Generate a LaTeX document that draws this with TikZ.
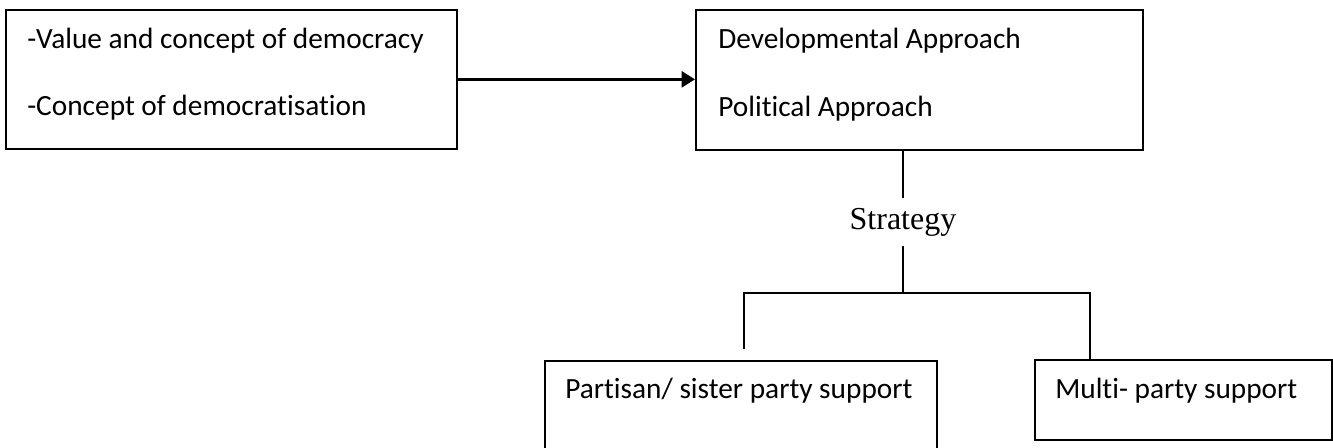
\documentclass[tikz,border=0pt]{standalone}
\usepackage{fontspec}
\setmainfont{Carlito}[Ligatures={NoCommon}]
\newfontfamily\timesf{Liberation Serif}
\usetikzlibrary{arrows.meta,calc}
\begin{document}
\begin{tikzpicture}[x=0.75pt,y=-0.75pt,
  box/.style={draw=black,line width=1.3pt,rectangle,inner sep=0pt,anchor=north west},
  txt/.style={anchor=base west,inner sep=0pt,font=\fontsize{22}{26}\selectfont},
  conn/.style={draw=black,line width=1pt},
  arr/.style={draw=black,line width=1.8pt,-{Triangle[length=10pt,width=12pt]}}]
\useasboundingbox (0,0) rectangle (1333,447);
\clip (0,0) rectangle (1333,447);
% boxes
\node[box,minimum width=451*0.75pt,minimum height=139*0.75pt] (L) at (5,9) {};
\node[box,minimum width=447*0.75pt,minimum height=140*0.75pt] (R) at (695,9) {};
\node[box,minimum width=392*0.75pt,minimum height=120*0.75pt] (P) at (544,360) {};
\node[box,minimum width=297*0.75pt,minimum height=80*0.75pt] (M) at (1034,359) {};
% texts
\node[txt] (l1) at (27,48) {-Value and concept of democracy};
\node[txt] (l2) at (27,115) {-Concept of democratisation};
\node[txt] (r1) at (718,48) {Developmental Approach};
\node[txt] (r2) at (718,116) {Political Approach};
\node[txt] (pt) at (565,398) {Partisan/ sister party support};
\node[txt] (mt) at (1055,398) {Multi- party support};
\node[anchor=base,inner sep=7.5pt,font=\timesf\fontsize{24}{28}\selectfont] (S) at (903,229) {Strategy};
% connectors
\draw[arr] (L.east) -- (L.east -| R.west);
\coordinate (rs) at (R.south -| S);
\coordinate (j) at (903,293);
\coordinate (jl) at (744,293);
\coordinate (jr) at (1090,293);
\coordinate (pd) at (744,349);
\draw[conn] (rs) -- (S.north);
\draw[conn] (S.south) -- (j);
\draw[conn] (j) -- (jl) -- (pd);
\draw[conn] (j) -- (jr) -- (jr |- M.north);
\end{tikzpicture}
\end{document}
